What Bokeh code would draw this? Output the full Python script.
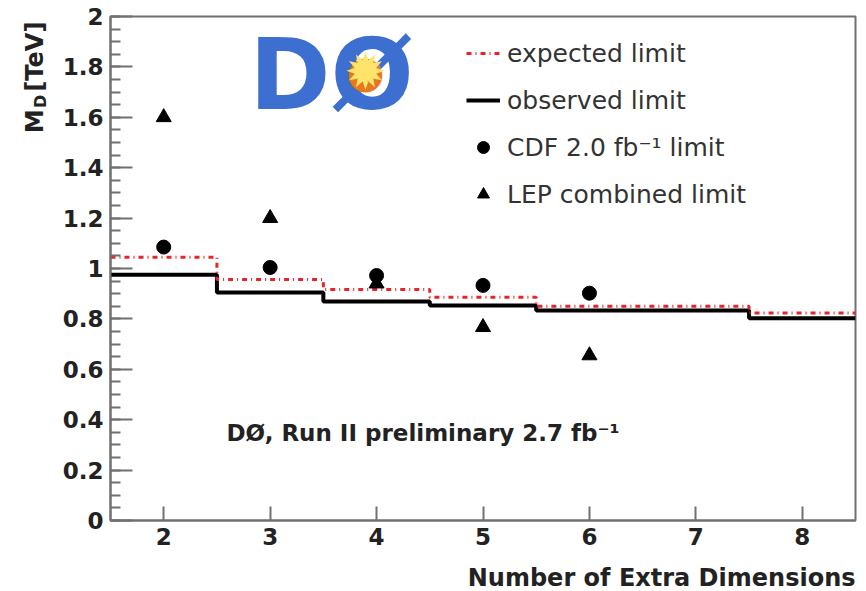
from bokeh.plotting import figure
from bokeh.models import Label, Legend, LegendItem, FixedTicker, Range1d
from bokeh.layouts import row, column
from bokeh.embed import file_html
from bokeh.resources import INLINE
import numpy as np

# ---- data ----
dims = [2, 3, 4, 5, 6, 7, 8]
expected_limit = [1.045, 0.956, 0.917, 0.886, 0.850, 0.850, 0.823]
observed_limit = [0.975, 0.905, 0.869, 0.853, 0.833, 0.833, 0.803]
cdf_dims = [2, 3, 4, 5, 6]
cdf_limit = [1.085, 1.004, 0.972, 0.933, 0.902]
lep_dims = [2, 3, 4, 5, 6]
lep_limit = [1.60, 1.20, 0.94, 0.767, 0.655]

x_ticks = [2, 3, 4, 5, 6, 7, 8]
y_ticks = [0, 0.2, 0.4, 0.6, 0.8, 1.0, 1.2, 1.4, 1.6, 1.8, 2.0]
y_tick_labels = ["0", "0.2", "0.4", "0.6", "0.8", "1", "1.2", "1.4", "1.6", "1.8", "2"]

FONT = "DejaVu Sans"
FRAME = "#707070"
TXT = "#222222"

YLAB_W = 56          # strip holding the rotated y title
MAIN_H = 557
XLAB_H = 34          # strip holding the x title
TOTAL_W = 858

p = figure(width=TOTAL_W - YLAB_W, height=MAIN_H, output_backend="svg", toolbar_location=None,
           x_range=Range1d(1.5, 8.5), y_range=Range1d(0, 2),
           min_border_left=110 - YLAB_W, min_border_right=3, min_border_top=16, min_border_bottom=37)
p.background_fill_color = "white"
p.border_fill_color = "white"
p.outline_line_color = FRAME
p.outline_line_width = 2
p.xgrid.visible = False
p.ygrid.visible = False

# axes
p.xaxis.ticker = FixedTicker(ticks=x_ticks, minor_ticks=[])
p.yaxis.ticker = FixedTicker(ticks=y_ticks, minor_ticks=list(np.round(np.arange(0, 2.0001, 0.05), 3)))
p.yaxis.major_label_overrides = {t: l for t, l in zip(y_ticks, y_tick_labels)}
for ax in (p.xaxis, p.yaxis):
    ax.axis_line_color = FRAME
    ax.axis_line_width = 2
    ax.major_tick_line_color = FRAME
    ax.minor_tick_line_color = FRAME
    ax.major_tick_line_width = 2
    ax.minor_tick_line_width = 2
    ax.major_tick_out = 0
    ax.minor_tick_out = 0
    ax.major_label_text_font = FONT
    ax.major_label_text_font_style = "bold"
    ax.major_label_text_font_size = "23px"
    ax.major_label_text_color = TXT
p.xaxis.major_tick_in = 14
p.yaxis.major_tick_in = 22
p.yaxis.minor_tick_in = 10
p.xaxis.major_label_standoff = 7
p.yaxis.major_label_standoff = 7

# step histograms (bin edges from the dimension numbers)
def edges_of(xs):
    return [x - 0.5 for x in xs] + [xs[-1] + 0.5]

r_obs = p.step(edges_of(dims), observed_limit + [observed_limit[-1]], mode="after",
               line_color="black", line_width=4)
r_exp = p.step(edges_of(dims), expected_limit + [expected_limit[-1]], mode="after",
               line_color="#e2262b", line_width=3, line_dash="5 4 1 4")
r_cdf = p.scatter(cdf_dims, cdf_limit, marker="circle", size=14, fill_color="black", line_color="black")
r_lep = p.scatter(lep_dims, lep_limit, marker="triangle", size=15, fill_color="black", line_color="black")

legend = Legend(items=[
    LegendItem(label="expected limit", renderers=[r_exp]),
    LegendItem(label="observed limit", renderers=[r_obs]),
    LegendItem(label="CDF 2.0 fb\u207b\u00b9 limit", renderers=[r_cdf]),
    LegendItem(label="LEP combined limit", renderers=[r_lep]),
], location=(356, 311), orientation="vertical")
legend.background_fill_alpha = 0
legend.border_line_alpha = 0
legend.padding = 0
legend.margin = 0
legend.spacing = 17
legend.glyph_width = 34
legend.glyph_height = 30
legend.label_height = 30
legend.label_standoff = 7
legend.label_text_font = FONT
legend.label_text_font_size = "25px"
legend.label_text_color = "#333333"
p.add_layout(legend, "center")

# in-frame annotations, screen units relative to the frame's bottom-left corner
FL, FB = 110, 520   # frame left / bottom in picture pixels
def slabel(fig, x, y, text, size, align="left", angle=0.0, style="bold", color=TXT):
    fig.add_layout(Label(x=x, y=y, x_units="screen", y_units="screen", text=text,
                         angle=angle, text_align=align, text_baseline="middle", text_font=FONT,
                         text_font_style=style, text_font_size=size, text_color=color))

slabel(p, 226 - FL, FB - 432, "D\u00d8, Run II preliminary 2.7 fb\u207b\u00b9", "23px")
# logo (approximation)
slabel(p, 331 - FL, FB - 74, "D\u00d8", "98px", align="center", color="#3d6fd0")
slabel(p, 365 - FL, FB - 71, "\u25cf", "44px", align="center", style="normal", color="#e8781e")
slabel(p, 365 - FL, FB - 71, "\u2739", "50px", align="center", style="normal", color="#ffe36b")

# helper strips for texts outside the frame (plain pixel ranges, no axes)
def strip(w, h):
    f = figure(width=w, height=h, output_backend="svg", toolbar_location=None,
               x_range=Range1d(0, w), y_range=Range1d(0, h), x_axis_type=None, y_axis_type=None,
               min_border=0)
    f.outline_line_color = None
    f.background_fill_color = "white"
    f.border_fill_color = "white"
    return f

ylab = strip(YLAB_W, MAIN_H)
ang = np.pi / 2
def ylabel_part(px, py, text, size):
    ylab.add_layout(Label(x=px, y=MAIN_H - py, text=text, angle=ang, text_align="left",
                          text_baseline="middle", text_font=FONT, text_font_style="bold",
                          text_font_size=size, text_color=TXT))
ylabel_part(34, 129, "M", "24px")
ylabel_part(40, 101, "D", "16px")
ylabel_part(34, 83, "[TeV]", "24px")

xlab = strip(TOTAL_W, XLAB_H)
xlab.add_layout(Label(x=855, y=XLAB_H - (577 - MAIN_H), text="Number of Extra Dimensions",
                      text_align="right", text_baseline="middle", text_font=FONT,
                      text_font_style="bold", text_font_size="24px", text_color=TXT))

layout = column(row(ylab, p, spacing=0), xlab, spacing=0)
open("out.html", "w").write(file_html(layout, INLINE))
